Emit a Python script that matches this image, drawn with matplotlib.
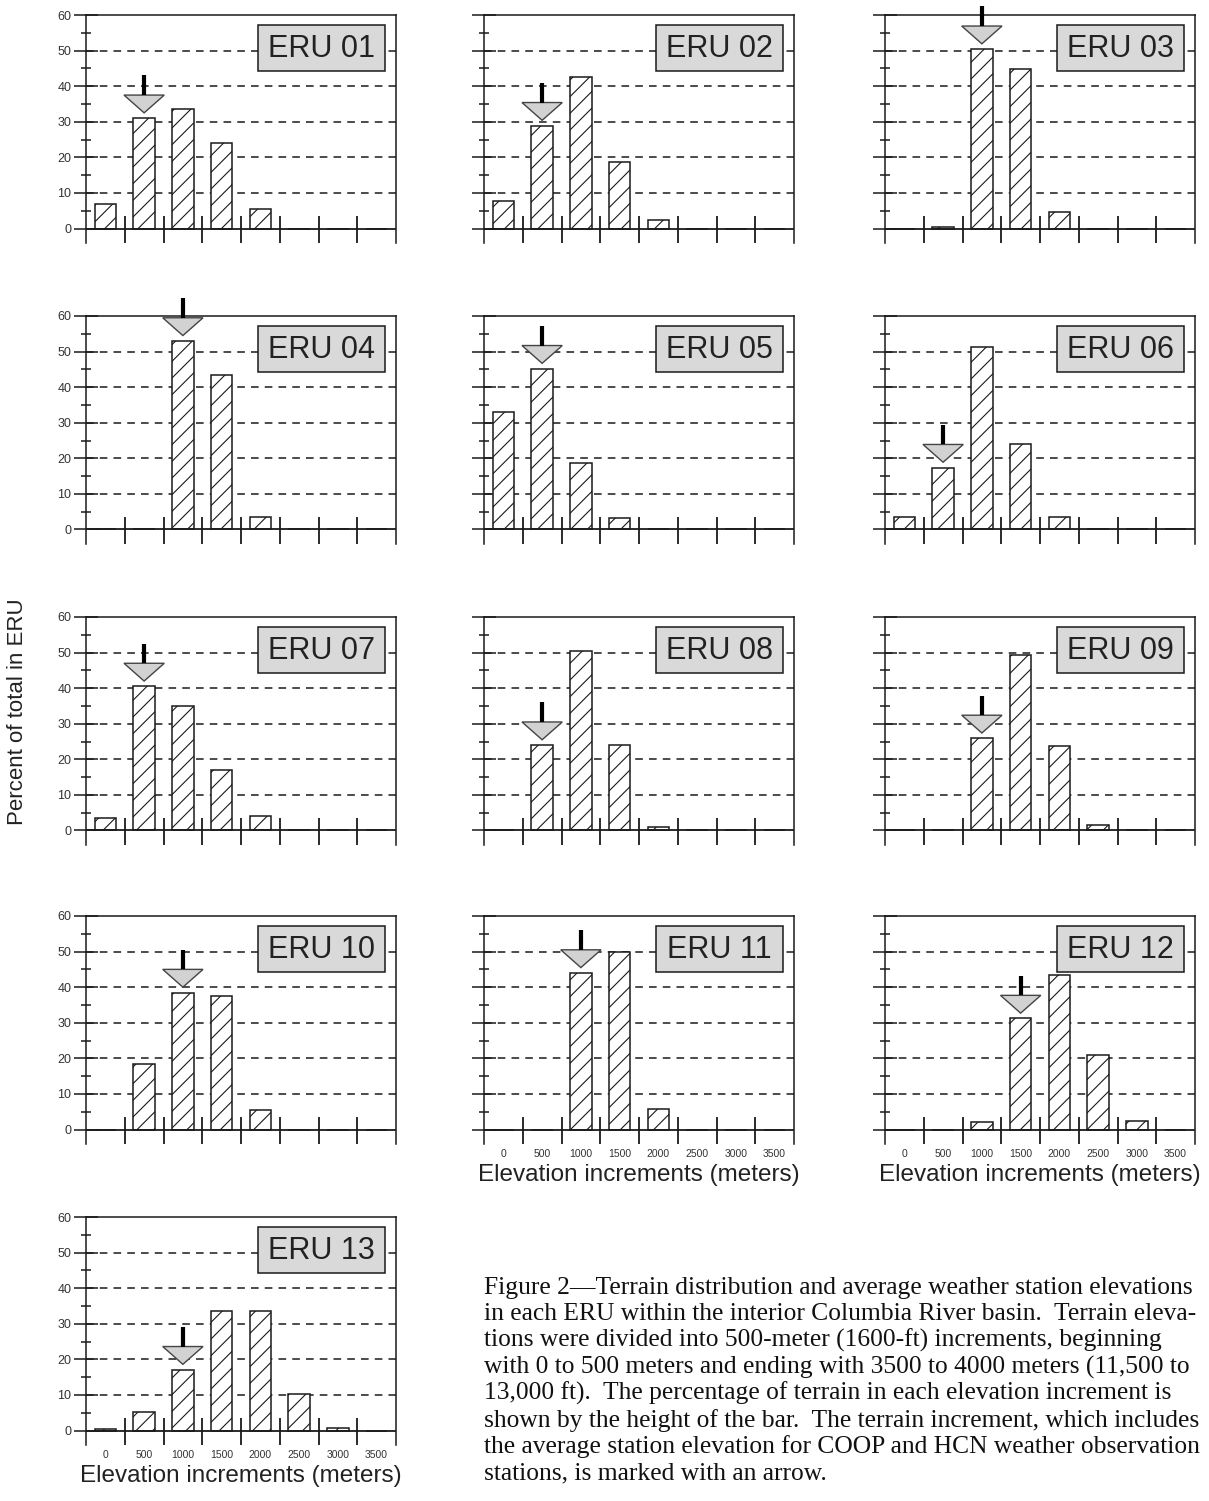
import matplotlib.pyplot as plt
from matplotlib.patches import Polygon, Rectangle
import numpy as np

plt.rcParams['font.family'] = ['Liberation Sans', 'DejaVu Sans']
plt.rcParams['hatch.linewidth'] = 0.8
plt.rcParams['hatch.color'] = '#111111'

# elevation increments (bin labels, meters)
elev_labels = ['0', '500', '1000', '1500', '2000', '2500', '3000', '3500']

eru_names = ['ERU 01', 'ERU 02', 'ERU 03', 'ERU 04', 'ERU 05', 'ERU 06', 'ERU 07',
             'ERU 08', 'ERU 09', 'ERU 10', 'ERU 11', 'ERU 12', 'ERU 13']

# percent of terrain in each increment
eru01 = [6.8, 31.0, 33.7, 24.0, 5.4, 0, 0, 0]
eru02 = [7.6, 28.9, 42.5, 18.7, 2.4, 0, 0, 0]
eru03 = [0, 0.3, 50.4, 44.7, 4.6, 0, 0, 0]
eru04 = [0, 0, 53.0, 43.5, 3.5, 0, 0, 0]
eru05 = [33.1, 45.2, 18.6, 3.2, 0, 0, 0, 0]
eru06 = [3.6, 17.4, 51.3, 23.9, 3.6, 0, 0, 0]
eru07 = [3.5, 40.5, 35.0, 17.0, 4.0, 0, 0, 0]
eru08 = [0, 24.0, 50.5, 24.0, 1.0, 0, 0, 0]
eru09 = [0, 0, 25.9, 49.3, 23.7, 1.5, 0, 0]
eru10 = [0, 18.5, 38.5, 37.5, 5.5, 0, 0, 0]
eru11 = [0, 0, 44.0, 49.9, 5.8, 0, 0, 0]
eru12 = [0, 0, 2.0, 31.2, 43.5, 21.0, 2.5, 0]
eru13 = [0.3, 5.3, 17.1, 33.5, 33.5, 10.3, 0.8, 0]

eru_values = [eru01, eru02, eru03, eru04, eru05, eru06, eru07,
              eru08, eru09, eru10, eru11, eru12, eru13]

# increment holding the average station elevation (arrow)
arrow_bins = [1, 1, 2, 2, 1, 1, 1, 1, 2, 2, 2, 3, 2]

caption_lines = [
    "Figure 2\u2014Terrain distribution and average weather station elevations",
    "in each ERU within the interior Columbia River basin.  Terrain eleva-",
    "tions were divided into 500-meter (1600-ft) increments, beginning",
    "with 0 to 500 meters and ending with 3500 to 4000 meters (11,500 to",
    "13,000 ft).  The percentage of terrain in each elevation increment is",
    "shown by the height of the bar.  The terrain increment, which includes",
    "the average station elevation for COOP and HCN weather observation",
    "stations, is marked with an arrow.",
]

W, H = 1209, 1501
fig = plt.figure(figsize=(W / 100, H / 100), dpi=100)

col_left = [86, 484, 885]
row_top = [15, 316, 617, 916, 1217]
ax_w = 310
ymin = -4.2
px_per_unit = 213.5 / 60
ax_h = px_per_unit * (60 - ymin)
ink = '#1a1a1a'

centers = np.arange(8) + 0.5

for i, (name, vals) in enumerate(zip(eru_names, eru_values)):
    r, c = divmod(i, 3)
    ax = fig.add_axes([col_left[c] / W, 1 - (row_top[r] + ax_h) / H, ax_w / W, ax_h / H])
    ax.set_xlim(0, 8)
    ax.set_ylim(ymin, 60)
    ax.spines['bottom'].set_visible(False)
    for s in ['left', 'right', 'top']:
        ax.spines[s].set_linewidth(1.1)
        ax.spines[s].set_color(ink)

    # dashed grid
    for y in range(10, 60, 10):
        ax.axhline(y, color=ink, lw=1.1, ls=(0, (5, 4)), zorder=1)
    ax.axhline(0, color=ink, lw=1.3, zorder=3)
    ax.vlines(np.arange(1, 8), ymin, 3.6, color=ink, lw=1.3, zorder=3)

    ax.bar(centers, vals, width=0.55, facecolor='white', edgecolor=ink,
           hatch='//', linewidth=1.1, zorder=2)

    # arrow at average station elevation
    b = arrow_bins[i]
    xc = centers[b]
    tip = vals[b] + 1.5
    top = tip + 5.0
    ax.add_patch(Polygon([[xc - 0.52, top], [xc + 0.52, top], [xc, tip]], closed=True,
                         facecolor='#d2d2d2', edgecolor='#444444', lw=1.0,
                         zorder=5, clip_on=False))
    ax.plot([xc, xc], [top, top + 5.5], color='black', lw=3, solid_capstyle='butt',
            zorder=6, clip_on=False)

    # label box
    ax.add_patch(Rectangle((4.45, 44.2), 3.27, 12.9, facecolor='#d9d9d9',
                           edgecolor=ink, lw=1.1, zorder=4))
    ax.text(6.085, 50.4, name, ha='center', va='center', fontsize=22,
            color='#222222', zorder=5)

    # y ticks
    ax.set_yticks(range(0, 61, 10))
    ax.set_yticks(range(5, 60, 10), minor=True)
    ax.yaxis.set_ticks_position('left')
    ax.tick_params(axis='y', which='major', direction='inout', length=17, width=1.1,
                   color=ink, labelsize=9, labelcolor='#333333', pad=2)
    ax.tick_params(axis='y', which='minor', direction='inout', length=7, width=1.1,
                   color=ink)
    if c != 0:
        ax.tick_params(axis='y', labelleft=False)

    # x ticks
    ax.set_xticks(centers)
    if i >= 10:
        ax.set_xticklabels(elev_labels)
        ax.tick_params(axis='x', length=0, pad=3, labelsize=7.5, labelcolor='#333333')
        ax.set_xlabel('Elevation increments (meters)', fontsize=17.5,
                      color='#222222', labelpad=4)
    else:
        ax.tick_params(axis='x', length=0, labelbottom=False)

fig.text(18 / W, 1 - 712 / H, 'Percent of total in ERU', rotation=90,
         ha='center', va='center', fontsize=16, color='#222222')

for k, line in enumerate(caption_lines):
    fig.text(484 / W, 1 - (1294 + k * 26.5) / H, line, ha='left', va='baseline',
             fontsize=18.4, family=['Liberation Serif', 'DejaVu Serif'], color='#111111')

fig.savefig('out.png', dpi=100)
